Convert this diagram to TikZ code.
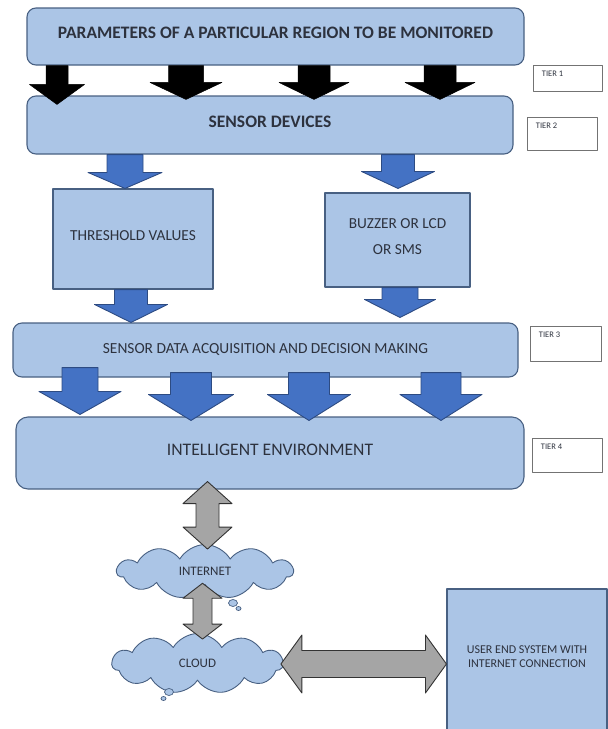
\documentclass[tikz,border=0pt]{standalone}
\usepackage{fontspec}
\setmainfont{Carlito}
\usetikzlibrary{calc,shapes.symbols}
\definecolor{hopnen}{RGB}{171,197,230}
\definecolor{hopvien}{RGB}{72,96,130}
\definecolor{xanhdam}{RGB}{68,114,196}
\definecolor{xanhvien}{RGB}{45,75,130}
\definecolor{xam}{RGB}{165,165,165}
\definecolor{chu}{RGB}{45,50,62}
% mui ten khoi: kieu, x, tu, den, nua than, nua dau, dai dau
\newcommand\blockdown[7]{\path[#1] let \p1=#3, \p2=#4, \p3=(#2,0) in
  (\x3-#5pt,\y1) -- (\x3-#5pt,\y2+#7pt) -- (\x3-#6pt,\y2+#7pt) -- (\x3,\y2)
  -- (\x3+#6pt,\y2+#7pt) -- (\x3+#5pt,\y2+#7pt) -- (\x3+#5pt,\y1) -- cycle;}
\newcommand\blockvv[7]{\path[#1] let \p1=#3, \p2=#4, \p3=(#2,0) in
  (\x3,\y1) -- (\x3+#6pt,\y1-#7pt) -- (\x3+#5pt,\y1-#7pt) -- (\x3+#5pt,\y2+#7pt)
  -- (\x3+#6pt,\y2+#7pt) -- (\x3,\y2) -- (\x3-#6pt,\y2+#7pt) -- (\x3-#5pt,\y2+#7pt)
  -- (\x3-#5pt,\y1-#7pt) -- (\x3-#6pt,\y1-#7pt) -- cycle;}
\newcommand\blockhh[7]{\path[#1] let \p1=#3, \p2=#4, \p3=(0,#2) in
  (\x1,\y3) -- (\x1+#7pt,\y3+#6pt) -- (\x1+#7pt,\y3+#5pt) -- (\x2-#7pt,\y3+#5pt)
  -- (\x2-#7pt,\y3+#6pt) -- (\x2,\y3) -- (\x2-#7pt,\y3-#6pt) -- (\x2-#7pt,\y3-#5pt)
  -- (\x1+#7pt,\y3-#5pt) -- (\x1+#7pt,\y3-#6pt) -- cycle;}
\begin{document}
\begin{tikzpicture}[x=1pt, y=-1pt, line join=round]
	\tikzset{box/.style={draw=hopvien, fill=hopnen, line width=1.1pt, rounded corners=9pt, text=chu, text depth=7pt, inner sep=0pt},
		sharpbox/.style={box, rounded corners=0pt},
		tier/.style={draw=black!55, line width=0.6pt, fill=white},
		tiertext/.style={font=\fontsize{8.5}{10}\selectfont, text=chu, anchor=north west, inner xsep=9pt, inner ysep=6pt},
		blackarrow/.style={fill=black, draw=black, line width=0.5pt},
		bluearrow/.style={fill=xanhdam, draw=xanhvien, line width=0.9pt},
		grayarrow/.style={fill=xam, draw=black!80, line width=0.9pt},
		may/.style={cloud, cloud puffs=11, cloud puff arc=120, aspect=3.5, draw=hopvien, fill=hopnen, line width=0.9pt, text=chu, inner sep=0pt},
		bongmay/.style={draw=hopvien, fill=hopnen, line width=0.7pt}}
	\useasboundingbox (0,0) rectangle (608,729);
	% Cac hop
	\node[box, minimum width=497pt, minimum height=57pt, font=\bfseries\fontsize{17.5}{21}\selectfont] (top) at (275.5,36.5) {PARAMETERS OF A PARTICULAR REGION TO BE MONITORED};
	\node[box, minimum width=486pt, minimum height=58pt, font=\bfseries\fontsize{17.5}{21}\selectfont] (sensor) at (270,125) {SENSOR DEVICES};
	\node[sharpbox, minimum width=160pt, minimum height=100pt, font=\fontsize{15.3}{18}\selectfont] (thresh) at (133,239) {THRESHOLD VALUES};
	\node[sharpbox, minimum width=145pt, minimum height=94pt, align=center, font=\fontsize{15.3}{26}\selectfont] (buzzer) at (397.5,240) {BUZZER OR LCD\\OR SMS};
	\node[box, minimum width=505pt, minimum height=54pt, text depth=4pt, font=\fontsize{15.4}{18}\selectfont] (sdam) at (265.5,350) {SENSOR DATA ACQUISITION AND DECISION MAKING};
	\node[box, rounded corners=12pt, minimum width=508pt, minimum height=72pt, font=\fontsize{17.6}{21}\selectfont] (ie) at (270,453) {INTELLIGENT ENVIRONMENT};
	\node[sharpbox, minimum width=160pt, minimum height=144pt, align=center, text depth=9pt, font=\fontsize{12}{13.3}\selectfont] (user) at (527,661) {USER END SYSTEM WITH\\INTERNET CONNECTION};
	% Cac tang
	\node[tier, minimum width=69pt, minimum height=26pt, label={[tiertext]north west:TIER 1}] (t1) at (567.5,78) {};
	\node[tier, minimum width=70pt, minimum height=33pt, label={[tiertext]north west:TIER 2}] (t2) at (562,133.5) {};
	\node[tier, minimum width=71pt, minimum height=35pt, label={[tiertext]north west:TIER 3}] (t3) at (565.5,343.5) {};
	\node[tier, minimum width=70pt, minimum height=34pt, label={[tiertext]north west:TIER 4}] (t4) at (567,455) {};
	% May
	\node[may, minimum width=176pt, minimum height=54pt, font=\fontsize{13}{15}\selectfont] (net) at (205,571.5) {INTERNET};
	\draw[bongmay] (233,603) ellipse (4.5pt and 3.5pt);
	\draw[bongmay] (238.5,608.5) ellipse (2.5pt and 2pt);
	\node[may, minimum width=171pt, minimum height=60pt, font=\fontsize{13}{15}\selectfont] (cloud) at (197.5,663.5) {CLOUD};
	\draw[bongmay] (169,692) ellipse (4.5pt and 3.5pt);
	\draw[bongmay] (163.5,698.5) ellipse (2.5pt and 2pt);
	% Mui ten
	\blockdown{blackarrow}{57}{(top.south)}{([yshift=-9pt]sensor.north)}{11}{27.5}{20}
	\blockdown{blackarrow}{186}{(top.south)}{([yshift=-4pt]sensor.north)}{17.5}{36}{17}
	\blockdown{blackarrow}{314}{(top.south)}{([yshift=-4pt]sensor.north)}{16}{35}{17}
	\blockdown{blackarrow}{440}{(top.south)}{([yshift=-4pt]sensor.north)}{16}{35}{17}
	\blockdown{bluearrow}{125}{(sensor.south)}{(thresh.north)}{18}{37}{16}
	\blockdown{bluearrow}{398}{(sensor.south)}{([yshift=4pt]buzzer.north)}{16.5}{36.5}{17}
	\blockdown{bluearrow}{131}{(thresh.south)}{(sdam.north)}{16.5}{36.5}{18}
	\blockdown{bluearrow}{400}{(buzzer.south)}{([yshift=5pt]sdam.north)}{18}{35.5}{18}
	\blockdown{bluearrow}{80}{([yshift=10pt]sdam.south)}{([yshift=2pt]ie.north)}{18}{41}{23}
	\blockdown{bluearrow}{191}{([yshift=5pt]sdam.south)}{([yshift=-4pt]ie.north)}{20.5}{42.5}{26}
	\blockdown{bluearrow}{309}{([yshift=5pt]sdam.south)}{([yshift=-4pt]ie.north)}{20.5}{41.5}{26}
	\blockdown{bluearrow}{441}{([yshift=5pt]sdam.south)}{([yshift=-4pt]ie.north)}{20}{41}{26}
	\blockvv{grayarrow}{207.5}{([yshift=8pt]ie.south)}{([yshift=-5pt]net.north)}{11.5}{24.5}{22}
	\blockvv{grayarrow}{202.5}{([yshift=2pt]net.south)}{([yshift=-6pt]cloud.north)}{9.5}{19.5}{15}
	\blockhh{grayarrow}{664}{([xshift=-3pt]cloud.east)}{(user.west)}{13.5}{29}{21}
\end{tikzpicture}
\end{document}
